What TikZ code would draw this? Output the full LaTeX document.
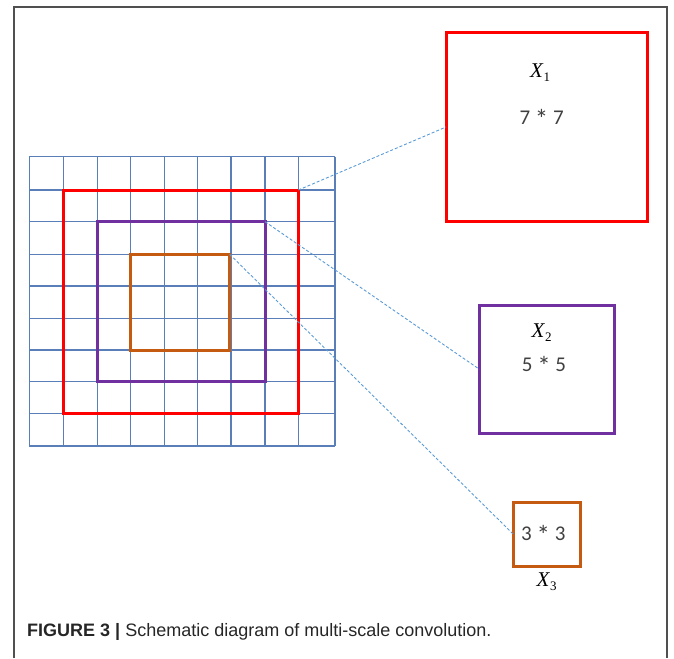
\documentclass[tikz,border=0pt]{standalone}
\usepackage{fontspec}
\newfontfamily\capfont{Liberation Sans}
\newfontfamily\boxfont{Carlito}
\newfontfamily\varfont{Liberation Serif}
\definecolor{gridblue}{HTML}{5A7FB8}
\definecolor{linkblue}{HTML}{5B9BD5}
\definecolor{kred}{HTML}{FF0000}
\definecolor{kpurple}{HTML}{7030A0}
\definecolor{korange}{HTML}{C55A11}
\definecolor{txtgray}{HTML}{404040}
\definecolor{framegray}{HTML}{505050}
\tikzset{
  x=1pt, y=-1pt,
  gridline/.style={draw=gridblue, line width=1.3pt},
  kbox/.style={rectangle, draw, line width=3pt, inner sep=0pt, outer sep=0pt},
  link/.style={draw=linkblue, line width=0.9pt, dash pattern=on 3pt off 2pt},
  dimtext/.style={font=\boxfont\fontsize{21}{23}\selectfont, text=txtgray, inner sep=0pt},
  vartext/.style={font=\varfont\fontsize{21}{23}\selectfont, inner sep=0pt},
}
\newcommand{\kvar}[1]{\textit{X}\raisebox{-0.4ex}{\fontsize{13}{13}\selectfont #1}}
\newcommand{\ktimes}{\raisebox{-0.45ex}{\fontsize{27}{27}\selectfont *}}
\begin{document}
\begin{tikzpicture}
\useasboundingbox (0,0) rectangle (674,658);
% frame
\draw[framegray, line width=2pt] (14,658) -- (14,7.5) -- (667,7.5) -- (667,658);
% grid
\foreach \gx in {29.3,63.3,97.3,130.7,164.3,197.7,231,265,298.3,335}
  \draw[gridline] (\gx,156.7) -- (\gx,446);
\foreach \gy in {156.7,190,221.7,254.3,286,318.3,350,381.7,413.3,446}
  \draw[gridline] (29.3,\gy) -- (335,\gy);
% windows on the grid
\node[kbox, draw=kred, minimum width=235pt, minimum height=223.3pt] (w7) at (180.8,301.7) {};
\node[kbox, draw=kpurple, minimum width=167.7pt, minimum height=160pt] (w5) at (181.2,301.7) {};
\node[kbox, draw=korange, minimum width=99pt, minimum height=95.7pt] (w3) at (180.2,302.2) {};
% kernel boxes
\node[kbox, draw=kred, minimum width=201.7pt, minimum height=189.4pt] (k7) at (546.9,127) {};
\node[kbox, draw=kpurple, minimum width=135pt, minimum height=128.3pt] (k5) at (546.8,369.2) {};
\node[kbox, draw=korange, minimum width=67.4pt, minimum height=63.7pt] (k3) at (547,534.2) {};
% labels
\node[vartext] (x1) at (540,73) {\kvar{1}};
\node[dimtext] (d7) at (541.7,119) {7 \ktimes{} 7};
\node[vartext] (x2) at (541.7,333) {\kvar{2}};
\node[dimtext] (d5) at (544,366) {5 \ktimes{} 5};
\node[dimtext] (d3) at (543.3,535) {3 \ktimes{} 3};
\node[vartext] (x3) at (546.7,582) {\kvar{3}};
% connectors
\draw[link] (w7.north east) -- (k7.west);
\draw[link] (w5.north east) -- (k5.west);
\draw[link] (w3.north east) -- (k3.west);
% caption
\node[anchor=base west, inner sep=0pt, font=\capfont\fontsize{18}{20}\selectfont, text=black!85] (cap) at (27,636)
  {\textbf{FIGURE 3 |} Schematic diagram of multi-scale convolution.};
\end{tikzpicture}
\end{document}
